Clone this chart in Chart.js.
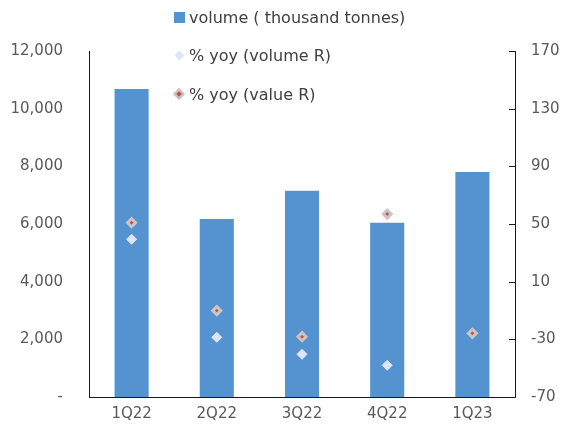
<!DOCTYPE html>
<html>
<head>
<meta charset="utf-8">
<script src="https://cdn.jsdelivr.net/npm/chart.js@4"></script>
<style>
  html, body { margin: 0; padding: 0; background: #fff; }
  #wrap { position: relative; width: 565px; height: 434px; }
  #legend { position: absolute; left: 0; top: 0; font-family: "DejaVu Sans", sans-serif; font-size: 16px; color: #404040; }
  .item { position: absolute; left: 174px; white-space: nowrap; line-height: 18px; }
  .sw { position: absolute; }
  .txt { position: absolute; left: 15px; top: 0; }
</style>
</head>
<body>
<div id="wrap">
  <canvas id="c" width="565" height="434"></canvas>
  <div id="legend"></div>
</div>
<script>
const categories = ["1Q22", "2Q22", "3Q22", "4Q22", "1Q23"];
const volumeThousandTonnes = [10680, 6170, 7150, 6040, 7800];
const yoyVolume = [39.4, -28.6, -40.4, -48, -25.8];
const yoyValue = [50.9, -10.1, -28.2, 56.9, -25.8];
const leftTicks = [0, 2000, 4000, 6000, 8000, 10000, 12000];
const rightTicks = [-70, -30, 10, 50, 90, 130, 170];
const seriesLabels = ["volume ( thousand tonnes)", "% yoy (volume R)", "% yoy (value R)"];

const BAR = "#5592d0";
const VOLPT = "#dde6f8";
const VALBORDER = "#cbc5c3";
const VALCENTER = "#c0504d";
const AXIS = "#1a1a1a";
const TXT = "#595959";

const innerTicks = {
  id: "innerTicks",
  afterDraw(chart) {
    const ctx = chart.ctx;
    const s = chart.scales.y2;
    ctx.save();
    ctx.strokeStyle = AXIS;
    ctx.lineWidth = 1;
    rightTicks.forEach(v => {
      const y = Math.round(s.getPixelForValue(v)) + 0.5;
      ctx.beginPath();
      ctx.moveTo(s.left - 6, y);
      ctx.lineTo(s.left, y);
      ctx.stroke();
    });
    ctx.restore();
  }
};

Chart.defaults.font.family = '"DejaVu Sans", sans-serif';
Chart.defaults.font.size = 15;
Chart.defaults.color = TXT;

new Chart(document.getElementById("c"), {
  type: "bar",
  data: {
    labels: categories,
    datasets: [
      {
        type: "bar",
        label: seriesLabels[0],
        data: volumeThousandTonnes,
        backgroundColor: BAR,
        yAxisID: "y",
        barPercentage: 0.8,
        categoryPercentage: 0.5,
        order: 3
      },
      {
        type: "line",
        label: seriesLabels[1],
        data: yoyVolume,
        yAxisID: "y2",
        showLine: false,
        pointStyle: "rectRot",
        pointRadius: 5,
        pointBackgroundColor: VOLPT,
        pointBorderColor: VOLPT,
        pointBorderWidth: 1,
        order: 2
      },
      {
        type: "line",
        label: seriesLabels[2],
        data: yoyValue,
        yAxisID: "y2",
        showLine: false,
        pointStyle: "rectRot",
        pointRadius: 4,
        pointBackgroundColor: VALCENTER,
        pointBorderColor: VALBORDER,
        pointBorderWidth: 3,
        order: 1
      }
    ]
  },
  options: {
    responsive: false,
    animation: false,
    layout: { padding: { top: 51, left: 0, right: 0, bottom: 0 } },
    plugins: { legend: { display: false }, tooltip: { enabled: false } },
    scales: {
      x: {
        grid: { display: false, drawTicks: false },
        border: { display: true, color: AXIS, width: 1 },
        ticks: { padding: 8, color: TXT },
        afterFit(s) { s.height = 37; }
      },
      y: {
        position: "left",
        min: 0, max: 12000,
        grid: { display: false, drawTicks: false },
        border: { display: true, color: AXIS, width: 1 },
        ticks: {
          stepSize: 2000,
          padding: 26,
          color: TXT,
          callback: v => leftTicks.includes(v) ? (v === 0 ? "-" : v.toLocaleString("en-US")) : null
        },
        afterFit(s) { s.width = 89; }
      },
      y2: {
        position: "right",
        min: -70, max: 170,
        grid: { display: false, drawTicks: false },
        border: { display: true, color: AXIS, width: 1 },
        ticks: {
          stepSize: 40,
          padding: 16,
          color: TXT,
          callback: v => rightTicks.includes(v) ? String(v) : null
        },
        afterFit(s) { s.width = 50; }
      }
    }
  },
  plugins: [innerTicks]
});

// HTML legend
const legend = document.getElementById("legend");
const rows = [
  { y: 9, sw: '<div class="sw" style="left:0;top:3px;width:11px;height:11px;background:' + BAR + '"></div>' },
  { y: 47, sw: '<div class="sw" style="left:2px;top:5px;width:7px;height:7px;background:' + VOLPT + ';transform:rotate(45deg)"></div>' },
  { y: 86, sw: '<div class="sw" style="left:1px;top:4px;width:4px;height:4px;background:' + VALCENTER + ';border:2px solid ' + VALBORDER + ';transform:rotate(45deg)"></div>' }
];
rows.forEach((r, i) => {
  const d = document.createElement("div");
  d.className = "item";
  d.style.top = r.y + "px";
  d.innerHTML = r.sw + '<span class="txt">' + seriesLabels[i] + '</span>';
  legend.appendChild(d);
});
</script>
</body>
</html>
